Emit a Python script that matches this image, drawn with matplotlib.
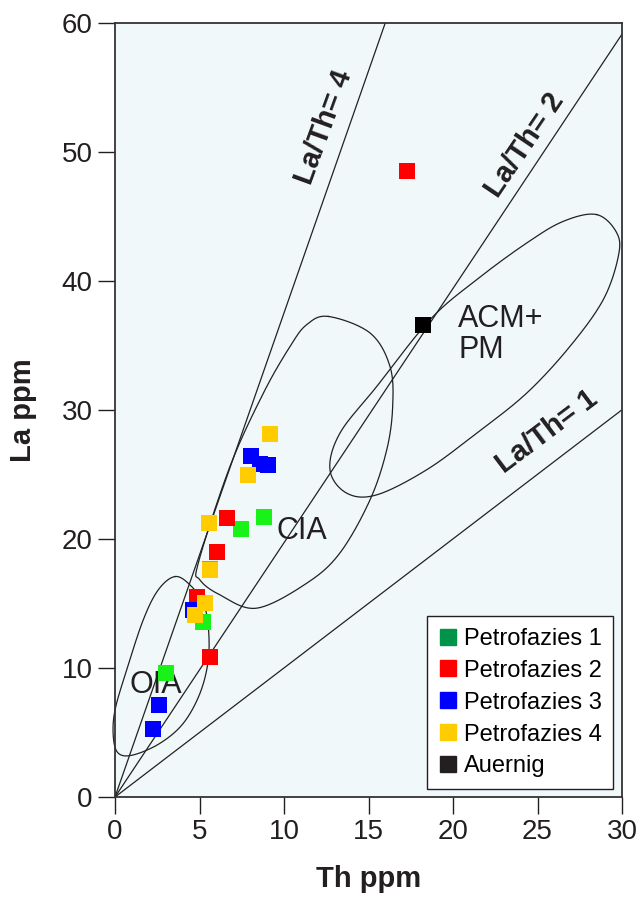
import numpy as np
import matplotlib
matplotlib.use("Agg")
import matplotlib.pyplot as plt
from matplotlib.lines import Line2D

plt.rcParams['font.family'] = ['Liberation Sans', 'DejaVu Sans']

# samples (Th ppm, La ppm) per petrofacies
pf1_th = [3.01, 5.23, 5.62, 7.47, 8.82]
pf1_la = [9.59, 13.54, 17.7, 20.75, 21.73]
pf2_th = [5.65, 4.87, 6.02, 6.65, 17.27]
pf2_la = [10.81, 15.48, 18.97, 21.63, 48.5]
pf3_th = [2.24, 2.61, 4.6, 8.58, 9.07, 8.05]
pf3_la = [5.24, 7.12, 14.5, 25.81, 25.74, 26.38]
pf4_th = [4.74, 5.31, 5.64, 5.58, 7.85, 9.19]
pf4_la = [14.08, 15.01, 17.6, 21.22, 24.91, 28.12]
auernig_th = [18.24]
auernig_la = [36.53]

# reference La/Th lines (slopes as drawn in the original diagram)
ratio_slopes = [3.75, 1.97, 1.0]
ratio_labels = ["La/Th= 4", "La/Th= 2", "La/Th= 1"]

# field outlines (Th, La)
oia_th = [3.55, 4.44, 5.22, 5.52, 5.52, 5.03, 4.04, 2.66, 1.08, 0.20, -0.10, 0.0, 0.69, 1.67, 2.56]
oia_la = [17.08, 16.43, 15.02, 13.20, 10.62, 8.04, 5.71, 4.16, 3.26, 3.39, 4.67, 6.74, 9.84, 13.72, 16.05]
cia_th = [12.62, 15.09, 16.27, 16.43, 16.08, 15.09, 13.31, 11.34, 8.38, 6.21, 5.03, 4.93, 6.80, 8.78, 10.36, 11.34]
cia_la = [37.23, 35.95, 33.36, 30.26, 26.90, 23.02, 18.91, 16.56, 14.63, 15.66, 16.82, 18.14, 25.60, 31.29, 34.91, 36.59]
acm_th = [28.50, 29.69, 29.78, 28.89, 26.92, 24.36, 21.40, 18.44, 15.49, 13.71, 12.72, 13.31, 15.49, 18.64, 21.40, 24.36, 26.53]
acm_la = [45.12, 43.70, 41.88, 38.53, 34.91, 31.29, 28.19, 25.35, 23.41, 23.54, 25.35, 28.19, 31.81, 36.98, 40.08, 42.92, 44.60]

GREEN = "#19f219"
GREEN_LEG = "#00934a"
RED = "#ff0000"
BLUE = "#0000ff"
YELLOW = "#ffcc00"
BLACK = "#231f20"


def closed_curve(xs, ys, n=30):
    # periodic Catmull-Rom through the outline points
    p = np.column_stack([xs, ys])
    m = len(p)
    out = []
    t = np.linspace(0, 1, n, endpoint=False)[:, None]
    for i in range(m):
        p0, p1, p2, p3 = p[i - 1], p[i], p[(i + 1) % m], p[(i + 2) % m]
        seg = 0.5 * ((2 * p1) + (-p0 + p2) * t
                     + (2 * p0 - 5 * p1 + 4 * p2 - p3) * t ** 2
                     + (-p0 + 3 * p1 - 3 * p2 + p3) * t ** 3)
        out.append(seg)
    out = np.vstack(out)
    out = np.vstack([out, out[:1]])
    return out[:, 0], out[:, 1]


fig = plt.figure(figsize=(6.41, 9.11), dpi=100)
ax = fig.add_axes([0.1794, 0.1251, 0.7910, 0.8502])
ax.set_facecolor("#f0f8fa")

ax.set_xlim(0, 30)
ax.set_ylim(0, 60)

# ratio lines
for slope in ratio_slopes:
    xe = min(30, 60 / slope)
    ax.plot([0, xe], [0, slope * xe], color="#222222", lw=0.9, zorder=2)

ax.text(12.37, 51.9, ratio_labels[0], rotation=70, fontsize=21, fontweight="bold",
        ha="center", va="center", color="#231f20")
ax.text(24.24, 50.5, ratio_labels[1], rotation=56, fontsize=21, fontweight="bold",
        ha="center", va="center", color="#231f20")
ax.text(25.54, 28.3, ratio_labels[2], rotation=37, fontsize=21, fontweight="bold",
        ha="center", va="center", color="#231f20")

# fields
for fx, fy in ((oia_th, oia_la), (cia_th, cia_la), (acm_th, acm_la)):
    cx, cy = closed_curve(fx, fy)
    ax.plot(cx, cy, color="#222222", lw=0.9, zorder=2, clip_on=False)

ax.text(2.43, 8.68, "OIA", fontsize=22, ha="center", va="center", color="#231f20")
ax.text(11.08, 20.64, "CIA", fontsize=22, ha="center", va="center", color="#231f20")
ax.text(20.3, 35.8, "ACM+\nPM", fontsize=22, ha="left", va="center",
        color="#231f20", linespacing=1.05)

ms = 117
ax.scatter(pf1_th, pf1_la, marker="s", s=ms, color=GREEN, lw=0, zorder=3)
ax.scatter(pf2_th, pf2_la, marker="s", s=ms, color=RED, lw=0, zorder=3)
ax.scatter(pf3_th, pf3_la, marker="s", s=ms, color=BLUE, lw=0, zorder=3)
ax.scatter(pf4_th, pf4_la, marker="s", s=ms, color=YELLOW, lw=0, zorder=3)
ax.scatter(auernig_th, auernig_la, marker="s", s=ms, color="#000000", lw=0, zorder=3)

handles = [
    Line2D([], [], marker="s", ls="", ms=12, color=GREEN_LEG, label="Petrofazies 1"),
    Line2D([], [], marker="s", ls="", ms=12, color=RED, label="Petrofazies 2"),
    Line2D([], [], marker="s", ls="", ms=12, color=BLUE, label="Petrofazies 3"),
    Line2D([], [], marker="s", ls="", ms=12, color=YELLOW, label="Petrofazies 4"),
    Line2D([], [], marker="s", ls="", ms=12, color=BLACK, label="Auernig"),
]
leg = ax.legend(handles=handles, loc="lower right", bbox_to_anchor=(0.983, 0.01),
                borderaxespad=0, fontsize=17, fancybox=False, framealpha=1,
                edgecolor="#231f20", handlelength=0.8, handletextpad=0.25,
                labelspacing=0.42, borderpad=0.5)
leg.get_frame().set_linewidth(1.0)
leg.set_zorder(5)

ax.set_xticks([0, 5, 10, 15, 20, 25, 30])
ax.set_yticks([0, 10, 20, 30, 40, 50, 60])
ax.tick_params(axis="both", direction="out", length=12, width=1.0,
               labelsize=20, colors="#231f20", pad=4)
for s in ax.spines.values():
    s.set_color("#333333")
    s.set_linewidth(1.3)

ax.set_xlabel("Th ppm", fontsize=21, fontweight="bold", color="#231f20", labelpad=14)
ax.set_ylabel("La ppm", fontsize=21, fontweight="bold", color="#231f20", labelpad=18)

fig.savefig("out.png", dpi=100)
